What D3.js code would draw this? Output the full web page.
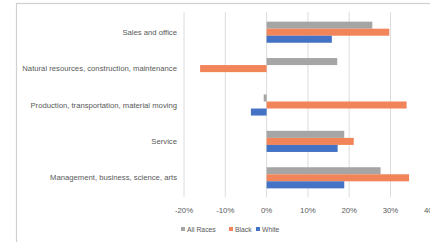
<!DOCTYPE html>
<html><head><meta charset="utf-8">
<script src="https://cdn.jsdelivr.net/npm/d3@7"></script>
<style>html,body{margin:0;padding:0;background:#fff;overflow:hidden}</style>
</head><body><svg id="c" width="430" height="242"></svg>
<script>
const categories = ["Sales and office","Natural resources, construction, maintenance","Production, transportation, material moving","Service","Management, business, science, arts"];
const seriesNames = ["All Races","Black","White"];
const allRaces = [25.6, 17.1, -0.7, 18.8, 27.6];
const black = [29.7, -16.1, 33.9, 21.1, 34.5];
const white = [15.8, null, -3.8, 17.2, 18.8];
const xTicks = [-20,-10,0,10,20,30,40];
const colors = ["#a5a5a5","#f2845a","#4472c4"];

const series = [allRaces, black, white];
const svg = d3.select("#c");
const font = "Liberation Sans, Arial, sans-serif";
const textColor = "#595959";

// frame
svg.append("rect").attr("x",16.5).attr("y",3.5).attr("width",430).attr("height",260)
  .attr("fill","none").attr("stroke","#d0d0d0").attr("stroke-width",1.2);

const x = d3.scaleLinear().domain([-20,40]).range([184, 431.8]);
const y = d3.scaleBand().domain(categories).range([14,196]).paddingInner(0.42).paddingOuter(0.21);
const ySub = d3.scaleBand().domain(seriesNames).range([0,y.bandwidth()]);

// gridlines
svg.append("g").selectAll("line").data(xTicks).join("line")
  .attr("x1",d=>x(d)).attr("x2",d=>x(d)).attr("y1",12).attr("y2",197)
  .attr("stroke","#dcdcdc").attr("stroke-width",1);

// bars
const g = svg.append("g");
series.forEach((vals,si)=>{
  g.append("g").selectAll("rect").data(categories.map((c,i)=>({c,v:vals[i]})).filter(d=>d.v!=null))
   .join("rect")
   .attr("x",d=>x(Math.min(0,d.v)))
   .attr("width",d=>Math.abs(x(d.v)-x(0)))
   .attr("y",d=>y(d.c)+ySub(seriesNames[si]))
   .attr("height",ySub.bandwidth())
   .attr("fill",colors[si]);
});

// category labels
svg.append("g").selectAll("text").data(categories).join("text")
  .attr("x",177).attr("y",d=>y(d)+y.bandwidth()/2).attr("dy","0.35em")
  .attr("text-anchor","end").attr("font-family",font).attr("font-size",7.7)
  .attr("fill",textColor).text(d=>d);

// x tick labels
svg.append("g").selectAll("text").data(xTicks).join("text")
  .attr("x",d=>x(d)).attr("y",213).attr("text-anchor","middle")
  .attr("font-family",font).attr("font-size",7.8).attr("fill",textColor)
  .text(d=>d+"%");

// legend
const legX = [181, 229, 256];
const leg = svg.append("g");
seriesNames.forEach((n,i)=>{
  leg.append("rect").attr("x",legX[i]).attr("y",227).attr("width",4).attr("height",4).attr("fill",colors[i]);
  leg.append("text").attr("x",legX[i]+6).attr("y",231.5).attr("font-family",font)
    .attr("font-size",6.8).attr("fill",textColor).text(n);
});
</script></body></html>
